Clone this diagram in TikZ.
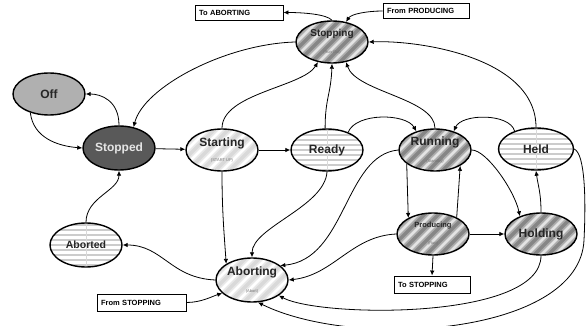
\documentclass[tikz,border=0pt]{standalone}
\usepackage{fontspec}
\setmainfont{Liberation Sans}
\usetikzlibrary{shapes.geometric,arrows.meta}
\newcommand\subtxt[1]{{\fontsize{4}{4}\selectfont\mdseries\color{gray!90!black}#1}}
\tikzset{
	state/.style={ellipse,draw,line width=1.4pt,minimum width=72pt,minimum height=42pt,inner sep=0pt,align=center,text=black!85,font=\bfseries\fontsize{12}{13}\selectfont},
	dstripe/.style n args={3}{fill=#1,path picture={\foreach \k in {-6,...,6}{
		\draw[#2,line width=7pt]([xshift=\k*14pt]path picture bounding box.center)++(-40pt,-40pt)--++(80pt,80pt);
		\draw[#3,line width=3.5pt]([xshift=\k*14pt]path picture bounding box.center)++(-40pt,-40pt)--++(80pt,80pt);}}},
	lightstripe/.style={dstripe={white}{gray!18}{gray!30}},
	darkstripe/.style={dstripe={gray!22}{gray!65}{gray!95}},
	hstripe/.style={path picture={\foreach \k in {-4,...,4}
		\draw[gray!40,line width=1.5pt]([yshift=\k*5pt]path picture bounding box.center)++(-40pt,0)--++(80pt,0);
		\draw[gray!30,line width=.6pt](path picture bounding box.north)--(path picture bounding box.south);}},
	tag/.style={draw,line width=.9pt,minimum height=15pt,inner sep=4pt,align=left,font=\bfseries\fontsize{7.5}{8}\selectfont},
	trans/.style={-{Latex[length=5pt,width=4.5pt]},line width=.8pt},
}
\begin{document}
\begin{tikzpicture}[x=1pt,y=-1pt]
	\useasboundingbox (0,0) rectangle (586,326);
	\node[state,fill=gray!62] (off) at (49,94) {Off};
	\node[state,fill=black!65,text=gray!20,minimum height=44pt] (stopped) at (119,148) {Stopped};
	\node[state,lightstripe] (starting) at (222,150) {Starting\\[2pt]\subtxt{(START UP)}};
	\node[state,hstripe] (ready) at (327,150) {Ready};
	\node[state,darkstripe] (running) at (435,150) {Running\\[4pt]\subtxt{(Standby)}};
	\node[state,hstripe,minimum width=75pt] (held) at (536,149) {Held};
	\node[state,darkstripe,font=\bfseries\fontsize{10}{11}\selectfont] (stopping) at (332,42) {Stopping\\[6pt]\subtxt{(Run Out)}};
	\node[state,darkstripe,font=\bfseries\fontsize{7.5}{8}\selectfont] (producing) at (433,234) {Producing\\[9pt]\subtxt{(Run)}};
	\node[state,darkstripe] (holding) at (541,234) {Holding};
	\node[state,lightstripe,minimum height=44pt] (aborting) at (252,280) {Aborting\\[4pt]\subtxt{(Abort)}};
	\node[state,hstripe,minimum height=44pt,font=\bfseries\fontsize{10.5}{11}\selectfont] (aborted) at (86,245) {Aborted};
	\node[tag,text width=80pt] (toaborting) at (239,12.5) {To ABORTING};
	\node[tag,text width=78pt] (fromproducing) at (426,11) {From PRODUCING};
	\node[tag,text width=81pt,minimum height=17pt] (fromstopping) at (141.5,302.5) {From STOPPING};
	\node[tag,text width=68pt,minimum height=17pt] (tostopping) at (432,284.5) {To STOPPING};
	\draw[trans] (off.225) .. controls +(3,25) and +(-25,-2) .. (stopped.west);
	\draw[trans] (stopped.north) .. controls +(0,-25) and +(15,0) .. (off.east);
	\draw[trans] (stopped) -- (starting);
	\draw[trans] (starting) -- (ready);
	\draw[trans] (stopping.west) .. controls +(-70,2) and +(10,-40) .. (stopped.55);
	\draw[trans] (starting.north) .. controls +(0,-35) and +(-15,25) .. (stopping.235);
	\draw[trans] (ready.95) .. controls +(0,-30) and +(-1,30) .. (stopping.south);
	\draw[trans] (running.north) .. controls +(0,-30) and +(10,30) .. (stopping.305);
	\draw[trans] (held.north) .. controls +(0,-70) and +(50,-2) .. (stopping.east);
	\draw[trans] (stopping.north) .. controls +(-5,-6) and +(20,0) .. (toaborting.east);
	\draw[trans] (fromproducing.west) .. controls +(-15,0) and +(5,-8) .. (stopping.55);
	\draw[trans] (ready.40) .. controls +(8,-20) and +(-10,-18) .. (running.135);
	\draw[trans] (held.140) .. controls +(-5,-18) and +(8,-18) .. (running.45);
	\draw[trans] (running.206) -- (producing.147);
	\draw[trans] (producing.35) -- (running.328);
	\draw[trans] (running.east) .. controls +(15,0) and +(-5,-25) .. (holding.140);
	\draw[trans] (holding.north) .. controls +(0,-20) and +(2,15) .. (held.south);
	\draw[trans] (producing) -- (holding);
	\draw[trans] (producing.south) -- (tostopping.north);
	\draw[trans] (starting.south) .. controls +(0,40) and +(-2,-30) .. (aborting.148);
	\draw[trans] (ready.south) .. controls +(-2,35) and +(0,-30) .. (aborting.north);
	\draw[trans] (running.west) .. controls +(-54,5) and +(66,-6) .. (aborting.27);
	\draw[trans] (producing.west) .. controls +(-45,2) and +(45,-5) .. (aborting.east);
	\draw[trans] (holding.south) .. controls +(0,65) and +(40,22) .. (aborting.330);
	\draw[trans] (held.east) .. controls +(11,5) and +(2,-40) .. (584,240) .. controls +(-4,95) and +(97,48) .. (aborting.285);
	\draw[trans] (fromstopping.east) .. controls +(15,0) and +(-10,3) .. (aborting.204);
	\draw[trans] (aborting.west) .. controls +(-45,-2) and +(40,0) .. (aborted.east);
	\draw[trans] (aborted.north) .. controls +(0,-25) and +(0,20) .. (stopped.south);
\end{tikzpicture}
\end{document}
